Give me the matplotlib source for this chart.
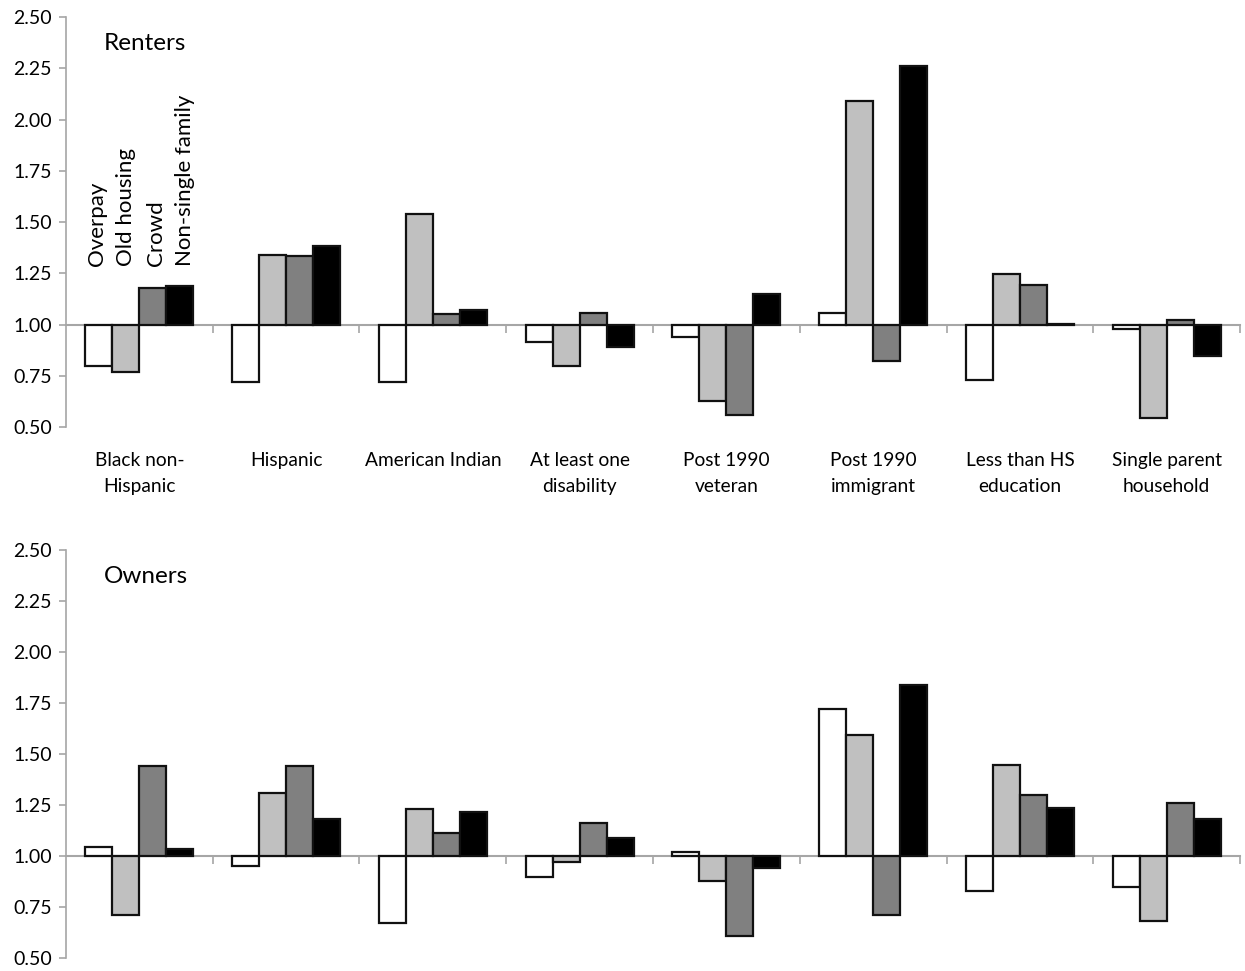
import numpy as np
import matplotlib
matplotlib.use('Agg')
import matplotlib.pyplot as plt

plt.rcParams['font.family'] = ['Lato', 'DejaVu Sans']

# categorias
categories = ['Black non-\nHispanic', 'Hispanic', 'American Indian', 'At least one\ndisability',
              'Post 1990\nveteran', 'Post 1990\nimmigrant', 'Less than HS\neducation',
              'Single parent\nhousehold']
series = ['Overpay', 'Old housing', 'Crowd', 'Non-single family']
colors = ['#ffffff', '#c0c0c0', '#808080', '#000000']

# Renters (ratio, base 1.00)
renters_overpay = [0.80, 0.72, 0.72, 0.915, 0.94, 1.055, 0.73, 0.98]
renters_old = [0.77, 1.34, 1.54, 0.80, 0.625, 2.09, 1.245, 0.545]
renters_crowd = [1.18, 1.335, 1.05, 1.057, 0.56, 0.82, 1.195, 1.02]
renters_nonsingle = [1.19, 1.385, 1.07, 0.89, 1.15, 2.26, 1.005, 0.845]

# Owners
owners_overpay = [1.045, 0.95, 0.67, 0.895, 1.02, 1.72, 0.83, 0.85]
owners_old = [0.71, 1.31, 1.23, 0.97, 0.875, 1.595, 1.445, 0.68]
owners_crowd = [1.44, 1.44, 1.115, 1.16, 0.61, 0.71, 1.30, 1.26]
owners_nonsingle = [1.035, 1.18, 1.215, 1.09, 0.94, 1.84, 1.235, 1.18]

yticks = [0.50, 0.75, 1.00, 1.25, 1.50, 1.75, 2.00, 2.25, 2.50]

fig = plt.figure(figsize=(12.45, 9.71), dpi=100)
ax1 = fig.add_axes([0.053, 0.5602, 0.943, 0.4223])
ax2 = fig.add_axes([0.053, 0.0134, 0.943, 0.4202])

x = np.arange(len(categories))
w = 0.184
offsets = [-1.5 * w, -0.5 * w, 0.5 * w, 1.5 * w]


def draw_panel(ax, data, title):
    for i, vals in enumerate(data):
        vals = np.array(vals)
        ax.bar(x + offsets[i], vals - 1.0, width=w, bottom=1.0, color=colors[i],
               edgecolor='#111111', linewidth=1.6, zorder=3)
    ax.set_xlim(-0.5, len(categories) - 0.5)
    ax.set_ylim(0.5, 2.5)
    ax.set_yticks(yticks)
    ax.set_yticklabels(['%.2f' % t for t in yticks], fontsize=14)
    for s in ['top', 'right']:
        ax.spines[s].set_visible(False)
    ax.spines['left'].set_color('#a6a6a6')
    ax.spines['left'].set_linewidth(1.2)
    ax.spines['bottom'].set_position(('data', 1.0))
    ax.spines['bottom'].set_color('#a6a6a6')
    ax.spines['bottom'].set_linewidth(1.5)
    ax.spines['bottom'].set_zorder(2)
    ax.tick_params(axis='y', colors='#a6a6a6', labelcolor='black', length=5, width=1.2, pad=5)
    ax.set_xticks(x)
    ax.set_xticklabels([])
    ax.tick_params(axis='x', which='major', length=0)
    ax.set_xticks(np.arange(len(categories)) + 0.5, minor=True)
    ax.tick_params(axis='x', which='minor', length=6, width=1.2, colors='#a6a6a6', direction='out')
    ax.text(0.032, 0.935, title, transform=ax.transAxes, fontsize=17.5, va='center')


draw_panel(ax1, [renters_overpay, renters_old, renters_crowd, renters_nonsingle], 'Renters')
draw_panel(ax2, [owners_overpay, owners_old, owners_crowd, owners_nonsingle], 'Owners')

# etiquetas de categorias debajo del panel superior
for i, c in enumerate(categories):
    ax1.text(x[i], -0.06, c, transform=ax1.get_xaxis_transform(), ha='center', va='top',
             fontsize=13.8, linespacing=1.65)

# etiquetas de series (rotadas)
label_step = 0.2
for i, s in enumerate(series):
    ax1.text(x[0] - 1.5 * label_step + i * label_step + 0.01, 1.285, s, rotation=90,
             ha='center', va='bottom', fontsize=16)

fig.savefig('out.png', dpi=100)
